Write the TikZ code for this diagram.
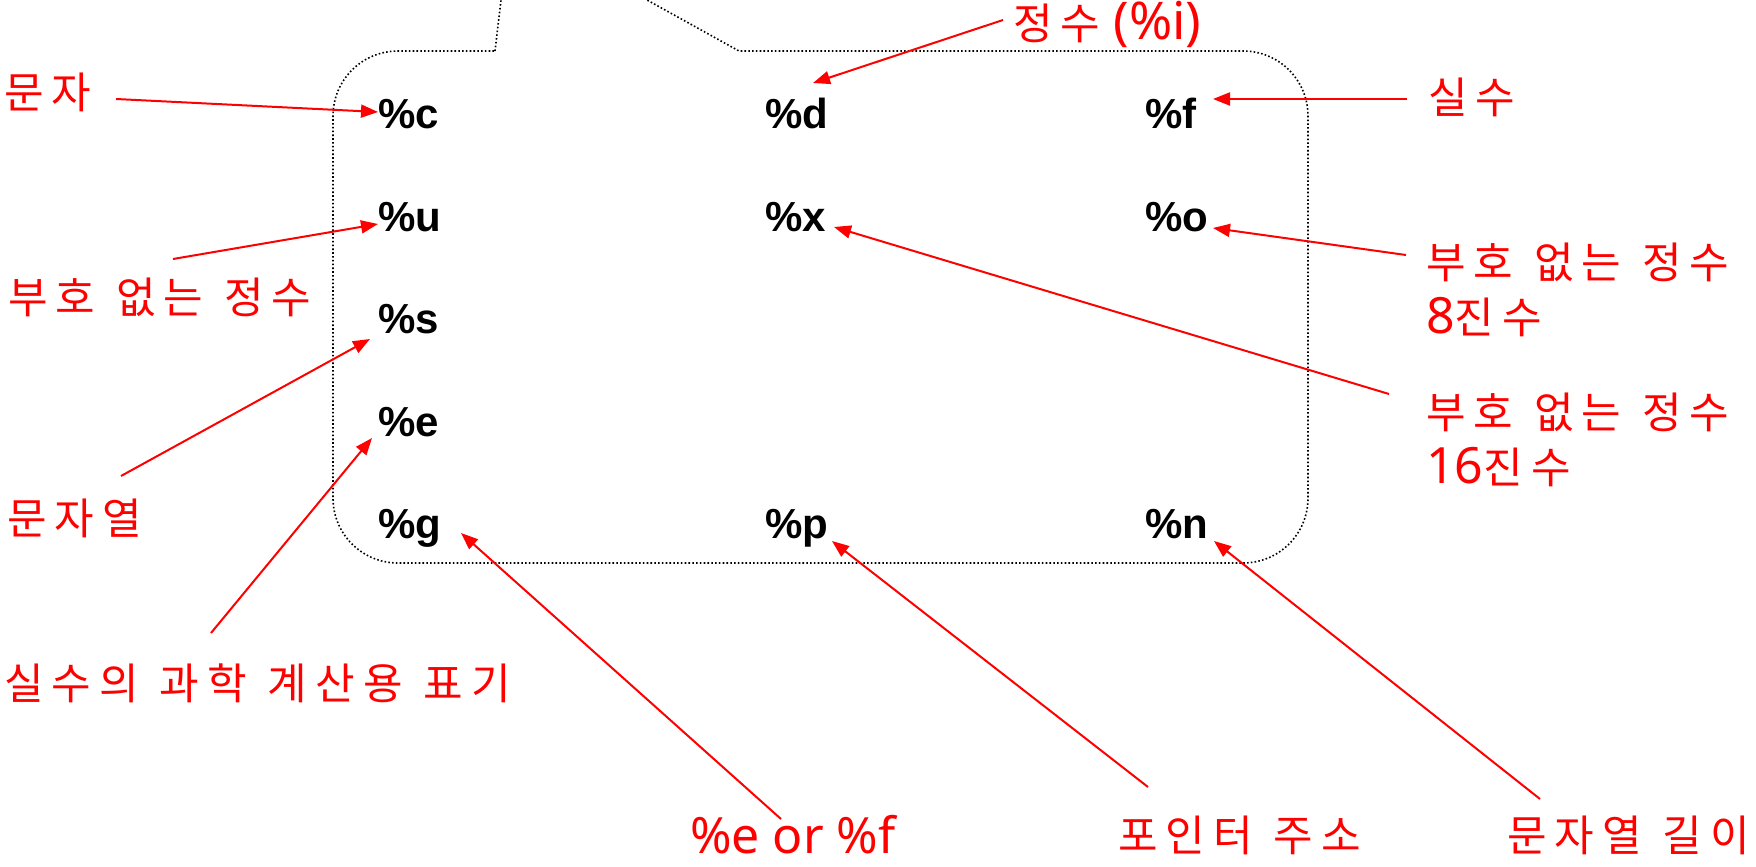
\documentclass[tikz,border=0pt]{standalone}
\usepackage{fontspec}
\setmainfont{Liberation Sans}
\newfontfamily\krfont[LetterSpace=19]{Noto Sans CJK KR}
\newfontfamily\latfont{Noto Sans}
\usetikzlibrary{arrows.meta}
\newcommand{\ksp}{\hspace{0.48em}}
\newcommand{\lat}[1]{{\latfont\fontsize{50}{55}\selectfont #1}}
\tikzset{
  spec/.style={font=\bfseries\fontsize{42}{46}\selectfont, inner sep=0pt, anchor=base west, text=black},
  lbl/.style={font=\krfont\fontsize{43}{55}\selectfont, inner sep=0pt, anchor=west, text=red},
  lbltwo/.style={lbl, align=left},
  arr/.style={draw=red, line width=2pt, -{Triangle[length=17pt,width=13pt]}},
  balloon/.style={draw=black, line width=1.6pt, dash pattern=on 1.6pt off 2.2pt}
}
\begin{document}
\begin{tikzpicture}[x=1pt,y=-1pt]
\useasboundingbox (0,0) rectangle (1756,867);
\clip (0,0) rectangle (1756,867);
% callout balloon
\draw[balloon] (495,51) -- (510,-76) -- (739,51) -- (1243,51)
  .. controls (1279,51) and (1308,80) .. (1308,116) -- (1308,498)
  .. controls (1308,534) and (1279,563) .. (1243,563) -- (398,563)
  .. controls (362,563) and (333,534) .. (333,498) -- (333,116)
  .. controls (333,80) and (362,51) .. (398,51) -- cycle;
% specifiers
\node[spec] (c) at (378,128) {\%c};
\node[spec] (d) at (765,128) {\%d};
\node[spec] (f) at (1145,128) {\%f};
\node[spec] (u) at (378,231) {\%u};
\node[spec] (x) at (765,231) {\%x};
\node[spec] (o) at (1145,231) {\%o};
\node[spec] (s) at (378,333) {\%s};
\node[spec] (e) at (378,436) {\%e};
\node[spec] (g) at (378,538) {\%g};
\node[spec] (p) at (765,538) {\%p};
\node[spec] (n) at (1145,538) {\%n};
% labels
\node[lbl] (Ld) at (1013,24) {정수\hspace{0.3em}{\latfont\fontsize{52}{54}\selectfont(\%i)}};
\node[lbl] (Lc) at (4,92) {문자};
\node[lbl] (Lf) at (1428,97) {실수};
\node[lbl] (Lu) at (8,297) {부호\ksp 없는\ksp 정수};
\node[lbltwo] (Lo) at (1426,290) {부호\ksp 없는\ksp 정수\\\lat{8}진수};
\node[lbltwo] (Lx) at (1426,440) {부호\ksp 없는\ksp 정수\\\lat{16}진수};
\node[lbl] (Ls) at (7,518) {문자열};
\node[lbl] (Le) at (4,683) {실수의\ksp 과학\ksp 계산용\ksp 표기};
\node[lbl] (Lg) at (690,835) {\lat{\%e or \%f}};
\node[lbl] (Lp) at (1118,835) {포인터\ksp 주소};
\node[lbl] (Ln) at (1507,835) {문자열\ksp 길이};
% anchor coordinates
\coordinate (sc) at (116,99);   \coordinate (tc) at (378,112);
\coordinate (sd) at (1003,20);  \coordinate (td) at (813,83);
\coordinate (sf) at (1407,99);  \coordinate (tf) at (1213,99);
\coordinate (su) at (173,259);  \coordinate (tu) at (378,224);
\coordinate (so) at (1406,255); \coordinate (to) at (1213,228);
\coordinate (sx) at (1389,394); \coordinate (tx) at (834,227);
\coordinate (ss) at (121,476);  \coordinate (ts) at (370,339);
\coordinate (se) at (211,633);  \coordinate (te) at (372,438);
\coordinate (sg) at (781,819);  \coordinate (tg) at (461,533);
\coordinate (sp) at (1148,787); \coordinate (tp) at (832,541);
\coordinate (sn) at (1540,799); \coordinate (tn) at (1214,541);
\draw[arr] (sc) -- (tc);
\draw[arr] (sd) -- (td);
\draw[arr] (sf) -- (tf);
\draw[arr] (su) -- (tu);
\draw[arr] (so) -- (to);
\draw[arr] (sx) -- (tx);
\draw[arr] (ss) -- (ts);
\draw[arr] (se) -- (te);
\draw[arr] (sg) -- (tg);
\draw[arr] (sp) -- (tp);
\draw[arr] (sn) -- (tn);
\end{tikzpicture}
\end{document}
